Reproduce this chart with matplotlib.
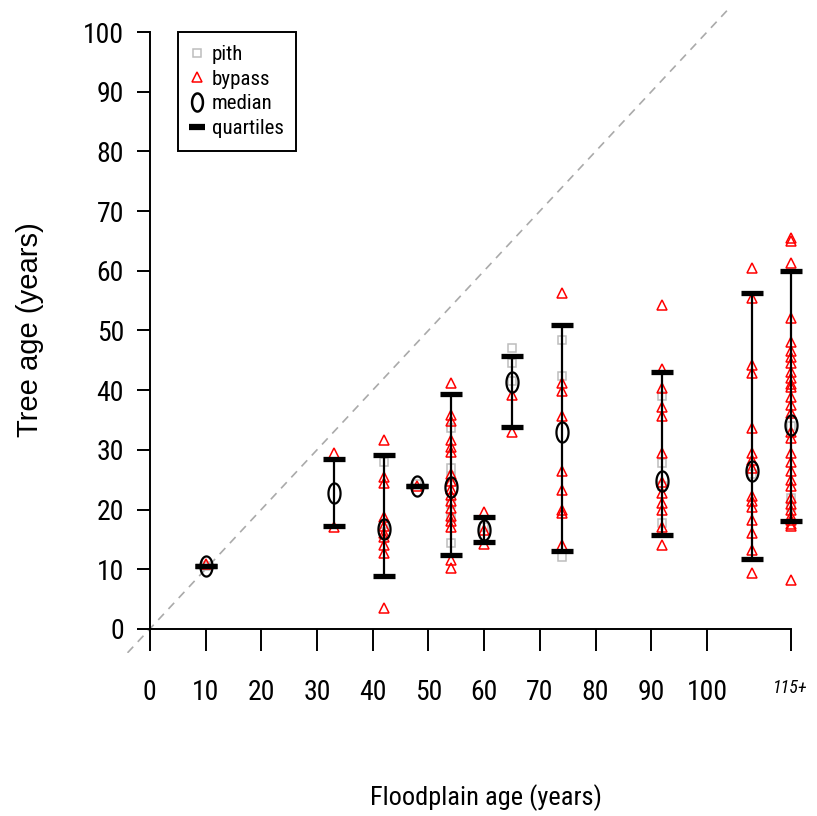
import matplotlib
matplotlib.use("Agg")
from matplotlib import pyplot as plt
from matplotlib.path import Path
import numpy as np

# floodplain age groups (x) and summary stats
floodplain = [10, 33, 42, 48, 54, 60, 65, 74, 92, 108, 115]
medians = [10.5, 22.7, 16.7, 24.0, 23.7, 16.6, 41.3, 33.0, 24.7, 26.5, 34.2]
q1 = [10.5, 17.2, 8.8, 24.0, 12.4, 14.5, 33.8, 13.1, 15.8, 11.7, 18.0]
q3 = [10.5, 28.4, 29.1, 24.0, 39.3, 18.8, 45.7, 51.0, 43.0, 56.2, 60.0]

# tree ages, one list per floodplain group
pith = [
    [10.6],
    [],
    [28.0, 17.5],
    [24.2],
    [33.7, 27.0, 25.5, 21.0, 18.5, 14.4],
    [17.0],
    [47.0, 44.5, 41.5],
    [48.4, 42.3, 12.1],
    [39.0, 27.8, 17.8, 24.0],
    [26.0],
    [22.0, 20.5, 34.0],
]
bypass = [
    [10.8],
    [29.5, 17.0],
    [31.7, 25.5, 24.5, 18.8, 17.2, 16.0, 15.4, 14.1, 12.7, 3.5],
    [24.0],
    [41.2, 35.8, 34.8, 31.7, 30.5, 29.6, 26.0, 24.8, 23.5, 22.5, 21.5, 20.2,
     19.0, 18.0, 17.0, 11.6, 10.2],
    [19.6, 16.5, 14.3],
    [39.2, 33.0],
    [56.2, 41.2, 39.8, 35.6, 26.4, 23.3, 20.0, 19.4, 14.1],
    [54.3, 43.5, 40.3, 37.2, 35.6, 29.4, 24.6, 22.8, 21.1, 19.9, 17.1, 14.1],
    [60.4, 55.4, 44.2, 42.8, 33.6, 29.5, 28.3, 27.0, 22.2, 21.5, 20.5, 18.3,
     16.1, 13.2, 9.4],
    [65.5, 65.0, 61.3, 52.1, 48.0, 46.5, 45.5, 44.5, 43.0, 42.0, 41.0, 40.5,
     38.9, 37.5, 36.2, 33.0, 32.0, 29.5, 28.0, 26.5, 25.0, 24.0, 22.0, 21.0,
     20.0, 19.0, 18.3, 17.5, 17.2, 8.2],
]

x_ticks = [0, 10, 20, 30, 40, 50, 60, 70, 80, 90, 100, 115]
x_labels = ["0", "10", "20", "30", "40", "50", "60", "70", "80", "90", "100", "115+"]
y_ticks = list(range(0, 101, 10))

narrow = ["Liberation Sans Narrow", "Roboto Condensed", "Open Sans Condensed",
          "Liberation Sans", "DejaVu Sans"]
regular = ["Liberation Sans", "DejaVu Sans"]

# tall "O" used for the medians
t = np.linspace(0, 2 * np.pi, 60)
oval = Path(np.column_stack([0.6 * np.cos(t), np.sin(t)]), closed=True)

fig = plt.figure(figsize=(8.17, 8.16), dpi=100)
ax = fig.add_axes([0.152, 0.2, 0.847, 0.79])
ax.set_xlim(-4.6, 119.6)
ax.set_ylim(-4, 104)

ax.axline((0, 0), slope=1, color="#aaaaaa", lw=1.2, ls=(0, (5, 4)), zorder=1)

for i, x in enumerate(floodplain):
    ax.plot([x] * len(pith[i]), pith[i], ls="none", marker="s", ms=6,
            mfc="none", mec="#bdbdbd", mew=1.1, zorder=2)
    ax.plot([x] * len(bypass[i]), bypass[i], ls="none", marker="^", ms=6.5,
            mfc="none", mec="red", mew=1.1, zorder=3)

ax.vlines(floodplain, q1, q3, color="black", lw=1.6, zorder=4)
ax.plot(floodplain, q1, ls="none", marker="_", ms=16, mew=3.8, color="black", zorder=5)
ax.plot(floodplain, q3, ls="none", marker="_", ms=16, mew=3.8, color="black", zorder=5)
ax.plot(floodplain, medians, ls="none", marker=oval, ms=14.5, mfc="none",
        mec="black", mew=1.6, zorder=6)

# legend proxies
h_pith, = ax.plot([], [], ls="none", marker="s", ms=6, mfc="none", mec="#bdbdbd", mew=1.1)
h_byp, = ax.plot([], [], ls="none", marker="^", ms=6.5, mfc="none", mec="red", mew=1.1)
h_med, = ax.plot([], [], ls="none", marker=oval, ms=13, mfc="none", mec="black", mew=1.8)
h_q, = ax.plot([], [], ls="none", marker="_", ms=11, mew=4.5, color="black")
leg = ax.legend([h_pith, h_byp, h_med, h_q], ["pith", "bypass", "median", "quartiles"],
                loc="upper left", bbox_to_anchor=(0.0775, 0.963), borderaxespad=0,
                prop={"family": narrow, "size": 15}, handlelength=0.6,
                handletextpad=0.4, labelspacing=0.27, borderpad=0.62,
                fancybox=False, framealpha=1, edgecolor="black")
leg.get_frame().set_linewidth(1.4)

for s in ["top", "right"]:
    ax.spines[s].set_visible(False)
ax.spines["left"].set_position(("data", 0))
ax.spines["bottom"].set_position(("data", 0))
ax.spines["left"].set_bounds(0, 100)
ax.spines["bottom"].set_bounds(0, 115)
ax.spines["left"].set_linewidth(1.4)
ax.spines["bottom"].set_linewidth(1.4)

ax.set_xticks(x_ticks)
ax.set_xticklabels(x_labels)
ax.set_yticks(y_ticks)
ax.tick_params(axis="x", length=16, width=1.4, pad=20, labelsize=20)
ax.tick_params(axis="y", length=9.5, width=1.4, pad=9, labelsize=20)
for lab in ax.get_xticklabels() + ax.get_yticklabels():
    lab.set_family(narrow)
last = ax.get_xticklabels()[-1]
last.set_fontsize(13)
last.set_style("italic")

fig.text(0.595, 0.022, "Floodplain age (years)", family=narrow, fontsize=19,
         ha="center", va="center")
fig.text(0.037, 0.596, "Tree age (years)", family=regular, fontsize=21,
         rotation=90, ha="center", va="center")

fig.savefig("out.png", dpi=100)
